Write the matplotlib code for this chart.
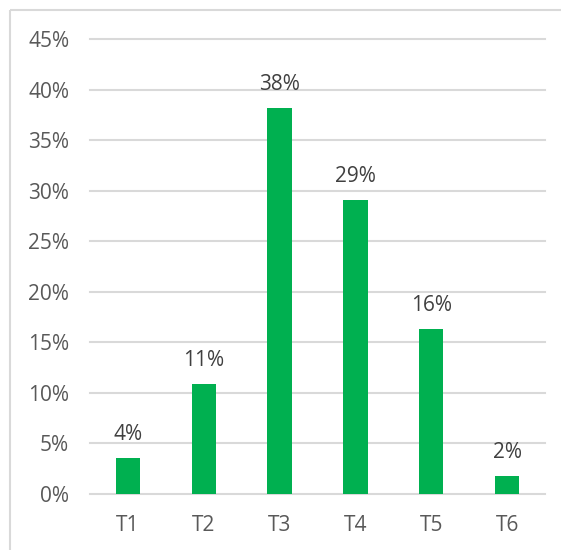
import matplotlib
matplotlib.use("Agg")
import matplotlib.pyplot as plt
from matplotlib.lines import Line2D
from matplotlib.ticker import PercentFormatter

# Data
categories = ["T1", "T2", "T3", "T4", "T5", "T6"]
shares = [0.036, 0.109, 0.382, 0.291, 0.163, 0.018]
labels = ["4%", "11%", "38%", "29%", "16%", "2%"]

plt.rcParams['font.family'] = ['Open Sans', 'DejaVu Sans']

fig = plt.figure(figsize=(5.61, 5.5), dpi=100)
ax = fig.add_axes([90 / 561, 56 / 550, 455 / 561, 455 / 550])

x = range(len(categories))
ax.bar(x, shares, width=0.32, color="#00B050", zorder=3)

# Value labels above bars
for i, (v, t) in enumerate(zip(shares, labels)):
    ax.annotate(t, (i, v), xytext=(0, 13), textcoords="offset points",
                ha="center", va="baseline", fontsize=15, color="#404040")

ax.set_xlim(-0.5, len(categories) - 0.5)
ax.set_ylim(0, 0.45)
ax.set_yticks([i * 0.05 for i in range(10)])
ax.yaxis.set_major_formatter(PercentFormatter(1.0, decimals=0))
ax.set_xticks(list(x))
ax.set_xticklabels(categories)

ax.grid(axis="y", color="#D9D9D9", linewidth=1.5, zorder=0)
for gl in ax.get_ygridlines():
    gl.set_clip_on(False)
for s in ax.spines.values():
    s.set_visible(False)
ax.tick_params(axis="both", length=0, labelsize=15, labelcolor="#595959")
ax.tick_params(axis="y", pad=15)
ax.tick_params(axis="x", pad=15)

# Chart border (only top and left edges are visible)
bx = 9.5 / 561
by = 1 - 9.5 / 550
fig.add_artist(Line2D([bx, bx], [0.0, by], transform=fig.transFigure,
                      color="#D9D9D9", linewidth=1.5, solid_capstyle="butt"))
fig.add_artist(Line2D([bx, 1.0], [by, by], transform=fig.transFigure,
                      color="#D9D9D9", linewidth=1.5, solid_capstyle="butt"))

fig.savefig("out.png", dpi=100)
